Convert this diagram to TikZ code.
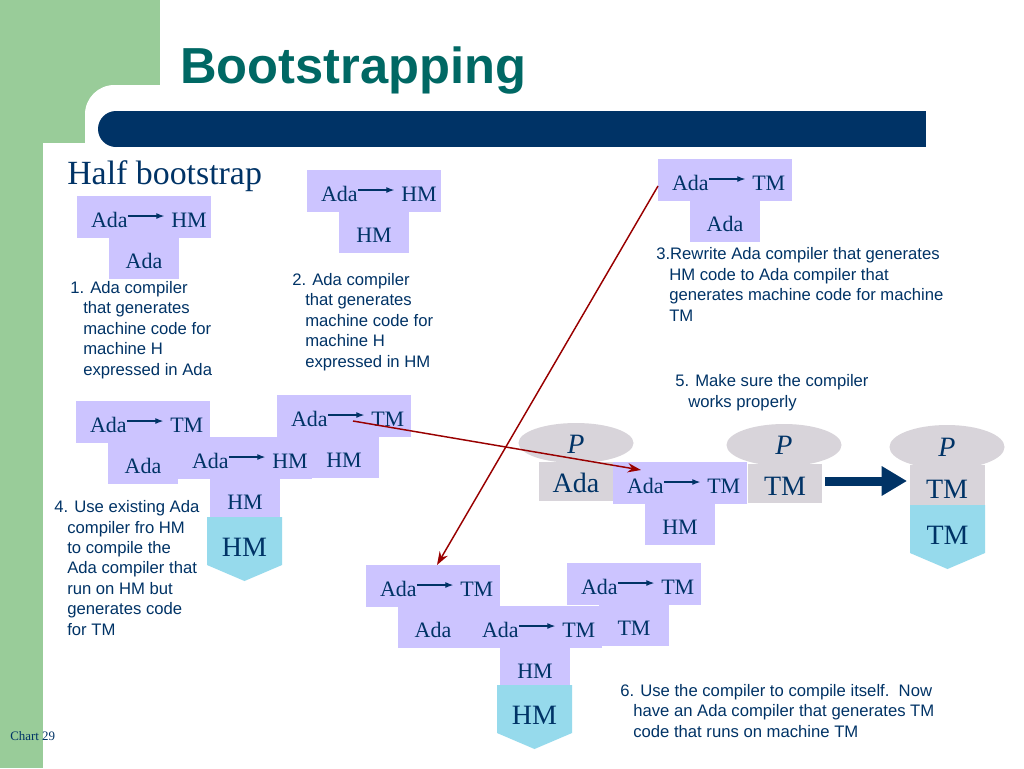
\documentclass[tikz,border=0pt]{standalone}
\usepackage{fontspec}
\setmainfont{Liberation Serif}
\setsansfont{Liberation Sans}
\usetikzlibrary{arrows.meta,calc,shapes.geometric}
\definecolor{lav}{RGB}{204,196,255}
\definecolor{greyb}{RGB}{216,212,218}
\definecolor{cyanb}{RGB}{150,218,236}
\definecolor{ink}{RGB}{0,51,102}
\definecolor{navybar}{RGB}{0,51,102}
\definecolor{teal}{RGB}{0,104,100}
\definecolor{sidegreen}{RGB}{153,204,153}
\definecolor{dred}{RGB}{153,0,0}
\newcommand\ind{\hspace*{9.75pt}}
\newcommand\Tdiag[6]{%
  \node[tbox,minimum width=100.5pt,minimum height=31.5pt,anchor=north west] (#1top) at (#2,#3) {};
  \node[tbox,minimum width=52.5pt,minimum height=30.75pt,anchor=north] (#1bot) at (#1top.south) {};
  \node[tlab,anchor=base east] (#1src) at (#2+51,#3+31) {#4};
  \node[tlab,anchor=base west] (#1dst) at (#2+94,#3+31) {#5};
  \node[tlab,anchor=base] (#1imp) at ($(#1bot.north)+(0,30)$) {#6};
  \draw[tarrow] ([yshift=8.25pt]#1src.base east) -- ([yshift=8.25pt,xshift=-5pt]#1dst.base west);
}
\newcommand\Penta[4]{%
  \fill[cyanb] (#2,#3) -- ++(75,0) -- ++(0,48) -- ++(-37.5,16) -- ++(-37.5,-16) -- cycle;
  \node[biglab,anchor=base] (#1) at (#2+37.5,#3+39) {#4};
}
\begin{document}
\begin{tikzpicture}[x=0.75pt,y=-0.75pt,
  tbox/.style={fill=lav, inner sep=0pt, outer sep=0pt},
  gbox/.style={fill=greyb, inner sep=0pt, outer sep=0pt, anchor=north west},
  tlab/.style={font=\fontsize{16.5}{18}\selectfont, text=ink, inner sep=0pt},
  biglab/.style={font=\fontsize{21}{24}\selectfont, text=ink, inner sep=0pt},
  plab/.style={font=\fontsize{21}{24}\selectfont\itshape, text=ink, inner sep=0pt, anchor=base},
  tarrow/.style={draw=ink, line width=0.9pt, -{Latex[length=6pt,width=4.5pt]}},
  desctext/.style={font=\sffamily\fontsize{12.5}{15.3}\selectfont, text=ink, align=left, inner sep=0pt, anchor=base west},
  redarr/.style={draw=dred, line width=1.1pt, -{Stealth[length=10pt,width=7pt]}},
]
\useasboundingbox (0,0) rectangle (1024,768);
% background
\fill[white] (0,0) rectangle (1024,768);
\fill[sidegreen] (0,0) rectangle (160,143);
\fill[sidegreen] (0,0) rectangle (43,768);
\fill[white, rounded corners=22pt] (85,85) rectangle (1024,175);
\fill[white] (43,143) rectangle (1024,768);
\fill[navybar] (116,111) rectangle (926,147);
\fill[navybar] (116,129) circle[radius=13.5pt];
% titles
\node[font=\sffamily\bfseries\fontsize{38}{42}\selectfont, text=teal, inner sep=0pt, anchor=base west] (title) at (180,83) {Bootstrapping};
\node[font=\fontsize{25.4}{28}\selectfont, text=ink, inner sep=0pt, anchor=base west] (half) at (67,184) {Half bootstrap};
\node[font=\fontsize{9.7}{11}\selectfont, text=ink, inner sep=0pt, anchor=base west] (chart) at (10,740) {Chart 29};
% step 1, 2, 3 (multi-line nodes: base = last line baseline)
\Tdiag{ta}{77}{196}{Ada}{HM}{Ada}
\Tdiag{tb}{307}{170}{Ada}{HM}{HM}
\Tdiag{tc}{658}{159}{Ada}{TM}{Ada}
\node[desctext] (d1) at (70,375) {1. Ada compiler\\\ind that generates\\\ind machine code for\\\ind machine H\\\ind expressed in Ada};
\node[desctext] (d2) at (292,367) {2. Ada compiler\\\ind that generates\\\ind machine code for\\\ind machine H\\\ind expressed in HM};
\node[desctext] (d3) at (656,321) {3.Rewrite Ada compiler that generates\\\ind HM code to Ada compiler that\\\ind generates machine code for machine\\\ind TM};
\node[desctext] (d5) at (675,407) {5. Make sure the compiler\\\ind works properly};
% step 4
\Tdiag{tdl}{76}{401}{Ada}{TM}{Ada}
\Tdiag{tdr}{277}{395}{Ada}{TM}{HM}
\Tdiag{tdm}{178}{437}{Ada}{HM}{HM}
\Penta{pd}{207}{517}{HM}
\node[desctext] (d4) at (54,635) {4. Use existing Ada\\\ind compiler fro HM\\\ind to compile the\\\ind Ada compiler that\\\ind run on HM but\\\ind generates code\\\ind for TM};
% step 5
\node[ellipse, fill=greyb, minimum width=86.25pt, minimum height=30pt, inner sep=0pt] (p1e) at (576,443) {};
\node[gbox, minimum width=55.5pt, minimum height=29.25pt] (p1r) at (539,462) {};
\node[plab] (p1p) at (576,453) {P};
\node[biglab, anchor=base] (p1l) at (576,492) {Ada};
\Tdiag{te}{613}{462}{Ada}{TM}{HM}
\node[ellipse, fill=greyb, minimum width=86.25pt, minimum height=31.5pt, inner sep=0pt] (p2e) at (784,445) {};
\node[gbox, minimum width=55.5pt, minimum height=29.25pt] (p2r) at (748,464) {};
\node[plab] (p2p) at (784,454) {P};
\node[biglab, anchor=base] (p2l) at (785,495) {TM};
\node[ellipse, fill=greyb, minimum width=86.25pt, minimum height=33pt, inner sep=0pt] (p3e) at (947,447) {};
\node[gbox, minimum width=56.25pt, minimum height=30pt] (p3r) at (910,465) {};
\node[plab] (p3p) at (947,456) {P};
\node[biglab, anchor=base] (p3l) at (947,498) {TM};
\Penta{pe}{910}{505}{TM}
\coordinate (ba) at (825,481);
\coordinate (bb) at (907,481);
\draw[navybar, line width=6.75pt, -{Triangle[length=19pt,width=21pt]}] (ba) -- (bb);
% step 6
\Tdiag{tfl}{366}{565}{Ada}{TM}{Ada}
\Tdiag{tfr}{567}{563}{Ada}{TM}{TM}
\Tdiag{tfm}{468}{606}{Ada}{TM}{HM}
\Penta{pf}{497}{685}{HM}
\node[desctext] (d6) at (620,737) {6. Use the compiler to compile itself.\ \ Now\\\ind have an Ada compiler that generates TM\\\ind code that runs on machine TM};
% red arrows
\coordinate (r1s) at (353,421);
\coordinate (r1e) at (641,470);
\coordinate (r2s) at (658,186);
\coordinate (r2e) at (437,565);
\draw[redarr] (r1s) -- (r1e);
\draw[redarr] (r2s) -- (r2e);
\end{tikzpicture}
\end{document}
